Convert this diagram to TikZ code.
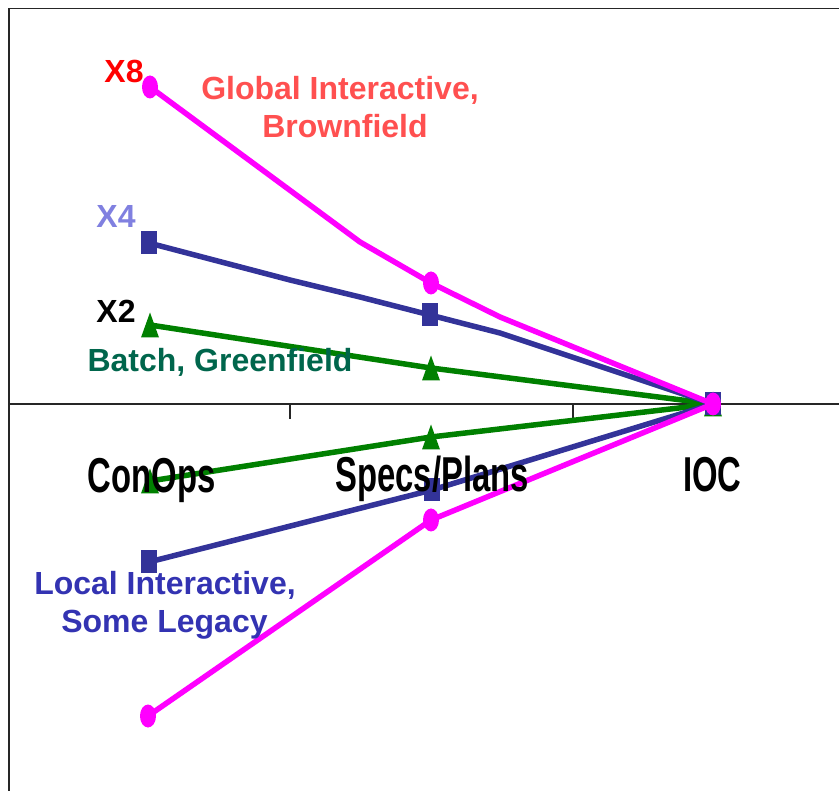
\documentclass[tikz,border=0pt]{standalone}
\usepackage{fontspec}
\setmainfont{Liberation Sans}
\newfontfamily\narrowfont[FakeStretch=0.67]{Liberation Sans}
\definecolor{magline}{RGB}{255,0,255}
\definecolor{blueline}{RGB}{51,51,153}
\definecolor{greenline}{RGB}{0,128,0}
\definecolor{xfourcol}{RGB}{128,128,224}
\definecolor{globalcol}{RGB}{255,80,80}
\definecolor{batchcol}{RGB}{0,102,76}
\definecolor{localcol}{RGB}{51,51,178}
\tikzset{
  series/.style={line width=5.5pt, line join=round},
  axisline/.style={line width=1.4pt, black!85},
  note/.style={anchor=base, inner sep=0, font=\fontsize{32}{38}\selectfont\bfseries},
  phase/.style={anchor=base, inner sep=0, font=\fontsize{49}{58}\selectfont\narrowfont\bfseries},
  dotmark/.pic={\fill[magline] (0,0) ellipse [x radius=8pt, y radius=11.5pt];},
  sqmark/.pic={\fill[blueline] (-8,-11.5) rectangle (8,11.5);},
  trimark/.pic={\fill[greenline] (0,-12.5) -- (9,12.5) -- (-9,12.5) -- cycle;}
}
\begin{document}
\begin{tikzpicture}[x=1pt, y=-1pt]
  \useasboundingbox (0,0) rectangle (839,791);
  \draw[axisline] (9,791) -- (9,8.5) -- (839,8.5);
  \draw[axisline] (9,404) -- (839,404);
  \draw[axisline] (290,404) -- (290,419);
  \draw[axisline] (573,404) -- (573,419);

  \coordinate (ioc) at (713,404);
  \coordinate (x2c) at (150,325);
  \coordinate (x2s) at (431,368);
  \coordinate (x4c) at (149,243);
  \coordinate (x4a) at (290,280);
  \coordinate (x4b) at (360,297);
  \coordinate (x4s) at (430,315);
  \coordinate (x4d) at (500,333);
  \coordinate (x8c) at (150,87);
  \coordinate (x8a) at (360,242);
  \coordinate (x8s) at (431,283);
  \coordinate (x8d) at (500,317);
  \coordinate (y2c) at (150,481);
  \coordinate (y2s) at (431,437);
  \coordinate (y4c) at (149,562);
  \coordinate (y4s) at (432,490);
  \coordinate (y8c) at (148,716);
  \coordinate (y8s) at (431,520);

  \draw[series, greenline] (x2c) -- (x2s) -- (ioc);
  \draw[series, greenline] (y2c) -- (y2s) -- (ioc);
  \pic at (x2c) {trimark};
  \pic at (x2s) {trimark};
  \pic at (y2c) {trimark};
  \pic at (y2s) {trimark};
  \pic at (ioc) {trimark};

  \draw[series, blueline] (x4c) -- (x4a) -- (x4b) -- (x4s) -- (x4d) -- (ioc);
  \draw[series, blueline] (y4c) -- (y4s) -- (ioc);
  \pic at (x4c) {sqmark};
  \pic at (x4s) {sqmark};
  \pic at (y4c) {sqmark};
  \pic at (y4s) {sqmark};
  \pic at (ioc) {sqmark};

  \draw[series, magline] (x8c) -- (x8a) -- (x8s) -- (x8d) -- (ioc);
  \draw[series, magline] (y8c) -- (y8s) -- (ioc);
  \pic at (x8c) {dotmark};
  \pic at (x8s) {dotmark};
  \pic at (y8c) {dotmark};
  \pic at (y8s) {dotmark};
  \pic at (ioc) {dotmark};

  \node[note, red] (xeight) at (124,83) {X8};
  \node[note, xfourcol] (xfour) at (116,228) {X4};
  \node[note, black] (xtwo) at (116,323) {X2};
  \node[note, globalcol] (global) at (340,100) {Global Interactive,};
  \node[note, globalcol] (brown) at (345,138) {Brownfield};
  \node[note, batchcol] (batch) at (220,372) {Batch, Greenfield};
  \node[note, localcol] (local) at (165,595) {Local Interactive,};
  \node[note, localcol] (legacy) at (164.5,633) {Some Legacy};

  \node[phase] (conops) at (151.5,493) {ConOps};
  \node[phase] (specs) at (432,492) {Specs/Plans};
  \node[phase] (iocname) at (712.5,492) {IOC};
\end{tikzpicture}
\end{document}
